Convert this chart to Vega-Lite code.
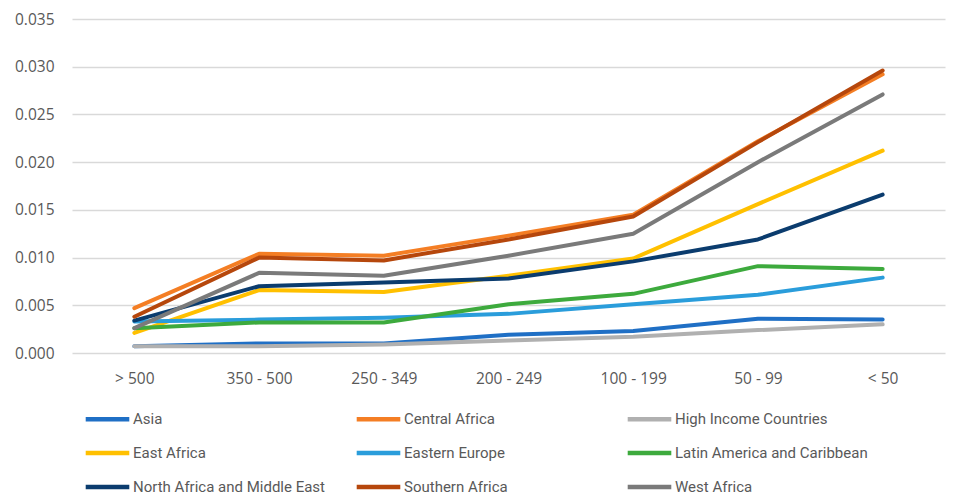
{
  "$schema": "https://vega.github.io/schema/vega-lite/v6.json",
  "autosize": "none",
  "width": 873,
  "height": 334,
  "padding": {"left": 72, "top": 19, "right": 23, "bottom": 143},
  "background": "white",
  "config": {
    "view": {"stroke": null},
    "font": "Open Sans",
    "axis": {"labelFont": "Open Sans", "labelColor": "#595959", "labelFontSize": 15.5}
  },
  "data": {
    "values": [
      {"region": "Asia", "size": "> 500", "value": 0.0007},
      {"region": "Asia", "size": "350 - 500", "value": 0.0010},
      {"region": "Asia", "size": "250 - 349", "value": 0.0010},
      {"region": "Asia", "size": "200 - 249", "value": 0.0019},
      {"region": "Asia", "size": "100 - 199", "value": 0.0023},
      {"region": "Asia", "size": "50 - 99", "value": 0.0036},
      {"region": "Asia", "size": "< 50", "value": 0.0035},
      {"region": "Central Africa", "size": "> 500", "value": 0.0047},
      {"region": "Central Africa", "size": "350 - 500", "value": 0.0104},
      {"region": "Central Africa", "size": "250 - 349", "value": 0.0102},
      {"region": "Central Africa", "size": "200 - 249", "value": 0.0123},
      {"region": "Central Africa", "size": "100 - 199", "value": 0.0145},
      {"region": "Central Africa", "size": "50 - 99", "value": 0.0222},
      {"region": "Central Africa", "size": "< 50", "value": 0.0292},
      {"region": "High Income Countries", "size": "> 500", "value": 0.0007},
      {"region": "High Income Countries", "size": "350 - 500", "value": 0.0007},
      {"region": "High Income Countries", "size": "250 - 349", "value": 0.0009},
      {"region": "High Income Countries", "size": "200 - 249", "value": 0.0013},
      {"region": "High Income Countries", "size": "100 - 199", "value": 0.0017},
      {"region": "High Income Countries", "size": "50 - 99", "value": 0.0024},
      {"region": "High Income Countries", "size": "< 50", "value": 0.0030},
      {"region": "East Africa", "size": "> 500", "value": 0.0021},
      {"region": "East Africa", "size": "350 - 500", "value": 0.0066},
      {"region": "East Africa", "size": "250 - 349", "value": 0.0064},
      {"region": "East Africa", "size": "200 - 249", "value": 0.0081},
      {"region": "East Africa", "size": "100 - 199", "value": 0.0099},
      {"region": "East Africa", "size": "50 - 99", "value": 0.0156},
      {"region": "East Africa", "size": "< 50", "value": 0.0212},
      {"region": "Eastern Europe", "size": "> 500", "value": 0.0033},
      {"region": "Eastern Europe", "size": "350 - 500", "value": 0.0035},
      {"region": "Eastern Europe", "size": "250 - 349", "value": 0.0037},
      {"region": "Eastern Europe", "size": "200 - 249", "value": 0.0041},
      {"region": "Eastern Europe", "size": "100 - 199", "value": 0.0051},
      {"region": "Eastern Europe", "size": "50 - 99", "value": 0.0061},
      {"region": "Eastern Europe", "size": "< 50", "value": 0.0079},
      {"region": "Latin America and Caribbean", "size": "> 500", "value": 0.0026},
      {"region": "Latin America and Caribbean", "size": "350 - 500", "value": 0.0032},
      {"region": "Latin America and Caribbean", "size": "250 - 349", "value": 0.0032},
      {"region": "Latin America and Caribbean", "size": "200 - 249", "value": 0.0051},
      {"region": "Latin America and Caribbean", "size": "100 - 199", "value": 0.0062},
      {"region": "Latin America and Caribbean", "size": "50 - 99", "value": 0.0091},
      {"region": "Latin America and Caribbean", "size": "< 50", "value": 0.0088},
      {"region": "North Africa and Middle East", "size": "> 500", "value": 0.0034},
      {"region": "North Africa and Middle East", "size": "350 - 500", "value": 0.0070},
      {"region": "North Africa and Middle East", "size": "250 - 349", "value": 0.0074},
      {"region": "North Africa and Middle East", "size": "200 - 249", "value": 0.0078},
      {"region": "North Africa and Middle East", "size": "100 - 199", "value": 0.0096},
      {"region": "North Africa and Middle East", "size": "50 - 99", "value": 0.0119},
      {"region": "North Africa and Middle East", "size": "< 50", "value": 0.0166},
      {"region": "Southern Africa", "size": "> 500", "value": 0.0038},
      {"region": "Southern Africa", "size": "350 - 500", "value": 0.0100},
      {"region": "Southern Africa", "size": "250 - 349", "value": 0.0097},
      {"region": "Southern Africa", "size": "200 - 249", "value": 0.0119},
      {"region": "Southern Africa", "size": "100 - 199", "value": 0.0143},
      {"region": "Southern Africa", "size": "50 - 99", "value": 0.0221},
      {"region": "Southern Africa", "size": "< 50", "value": 0.0296},
      {"region": "West Africa", "size": "> 500", "value": 0.0026},
      {"region": "West Africa", "size": "350 - 500", "value": 0.0084},
      {"region": "West Africa", "size": "250 - 349", "value": 0.0081},
      {"region": "West Africa", "size": "200 - 249", "value": 0.0102},
      {"region": "West Africa", "size": "100 - 199", "value": 0.0125},
      {"region": "West Africa", "size": "50 - 99", "value": 0.0200},
      {"region": "West Africa", "size": "< 50", "value": 0.0271}
    ]
  },
  "mark": {"type": "line", "strokeWidth": 4, "strokeCap": "round", "strokeJoin": "round"},
  "encoding": {
    "x": {
      "field": "size", "type": "ordinal",
      "sort": ["> 500", "350 - 500", "250 - 349", "200 - 249", "100 - 199", "50 - 99", "< 50"],
      "scale": {"type": "point", "padding": 0.5},
      "axis": {"title": null, "labelAngle": 0, "domain": false, "ticks": false, "grid": false, "labelPadding": 18}
    },
    "y": {
      "field": "value", "type": "quantitative",
      "scale": {"domain": [0, 0.035], "nice": false},
      "axis": {"title": null, "format": ".3f", "values": [0, 0.005, 0.01, 0.015, 0.02, 0.025, 0.03, 0.035], "domain": false, "ticks": false, "gridColor": "#D9D9D9", "gridWidth": 1.5, "labelPadding": 18}
    },
    "color": {
      "field": "region", "type": "nominal",
      "scale": {
        "domain": ["Asia", "Central Africa", "High Income Countries", "East Africa", "Eastern Europe", "Latin America and Caribbean", "North Africa and Middle East", "Southern Africa", "West Africa"],
        "range": ["#1F6FC5", "#F47E24", "#B0B0B0", "#FFC000", "#2A9DDB", "#3DAA3D", "#0B3C6E", "#B6470C", "#7A7A7A"]
      },
      "legend": {
        "title": null,
        "orient": "none",
        "legendX": 11,
        "legendY": 375.5,
        "direction": "horizontal",
        "columns": 3,
        "gridAlign": "all",
        "columnPadding": 21,
        "rowPadding": -10,
        "symbolType": "stroke",
        "symbolSize": 1900,
        "symbolStrokeWidth": 4.5,
        "labelOffset": 1,
        "labelFontSize": 15,
        "labelColor": "#595959",
        "labelFont": "Roboto",
        "labelLimit": 400
      }
    }
  }
}
